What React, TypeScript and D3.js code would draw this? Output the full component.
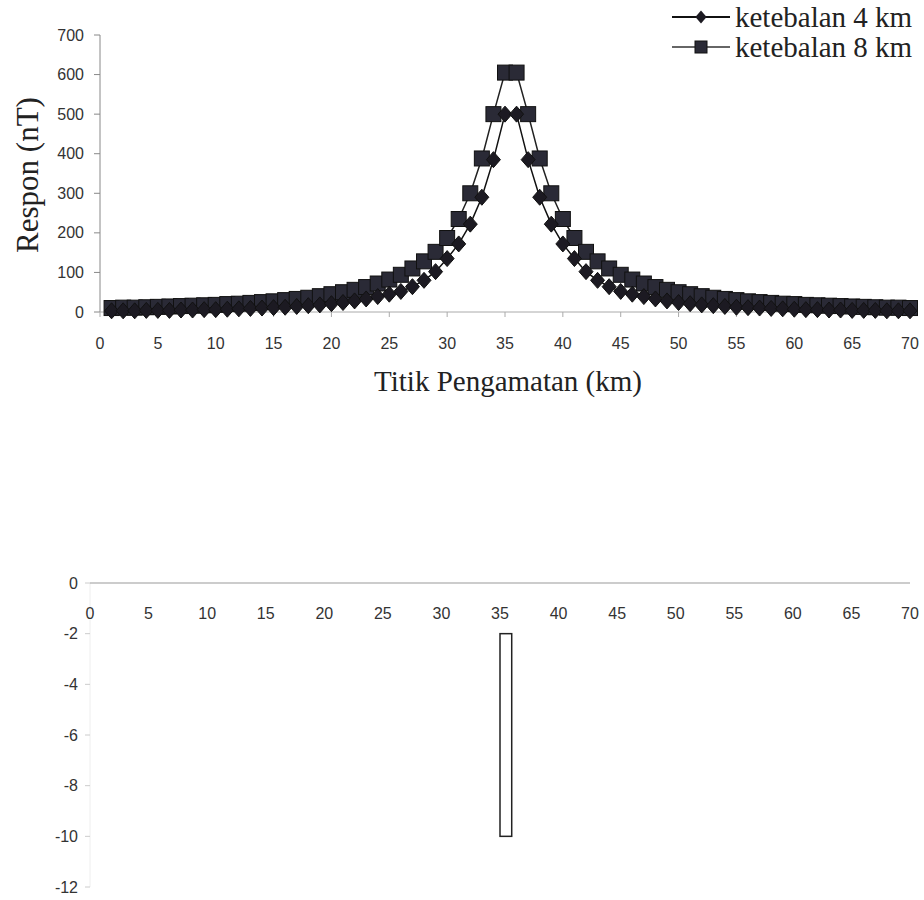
import React from "react";
import * as d3 from "d3";

// titik pengamatan (km) 1..70
const titik = d3.range(1, 71);

// respon (nT) untuk ketebalan 4 km
const respon4 = [
  3, 3, 3, 4, 4, 4, 5, 5, 6, 6, 7, 8, 9, 10, 11, 12, 14, 16, 18, 21,
  24, 28, 33, 39, 45, 52, 64, 80, 102, 135, 172, 222, 290, 385, 500,
  500, 385, 290, 222, 172, 135, 102, 80, 64, 52, 45, 39, 33, 28, 24,
  21, 18, 16, 14, 12, 11, 10, 9, 8, 7, 6, 6, 5, 5, 4, 4, 4, 3, 3, 3,
];

// respon (nT) untuk ketebalan 8 km
const respon8 = [
  10, 11, 11, 12, 13, 14, 15, 16, 17, 18, 20, 21, 23, 25, 27, 30, 33, 36, 40, 45,
  50, 56, 63, 72, 82, 94, 110, 128, 152, 187, 235, 300, 388, 500, 605,
  605, 500, 388, 300, 235, 187, 152, 128, 110, 94, 82, 72, 63, 56, 50,
  45, 40, 36, 33, 30, 27, 25, 23, 21, 20, 18, 17, 16, 15, 14, 13, 12, 11, 11, 10,
];

const xTicks = [0, 5, 10, 15, 20, 25, 30, 35, 40, 45, 50, 55, 60, 65, 70];
const yTicksTop = [0, 100, 200, 300, 400, 500, 600, 700];
const yTicksBottom = [0, -2, -4, -6, -8, -10, -12];

// benda penyebab: x dari 35 s/d 36 km, kedalaman 2 s/d 10 km
const bodyX = [35, 36];
const bodyDepth = [-2, -10];

const sans = "Liberation Sans, Arial, sans-serif";
const serif = "Liberation Serif, Times New Roman, serif";

export default function App() {
  // top chart scales
  const x = d3.scaleLinear().domain([0, 70]).range([100, 910]);
  const y = d3.scaleLinear().domain([0, 700]).range([312, 35]);

  // bottom chart scales
  const x2 = d3.scaleLinear().domain([0, 70]).range([90, 910]);
  const y2 = d3.scaleLinear().domain([0, -12]).range([583, 887]);

  const line = (vals: number[]) =>
    d3.line<number>()
      .x((_, i) => x(titik[i]))
      .y((d) => y(d))(vals) as string;

  const diamond = "M0,-8L7,0L0,8L-7,0Z";
  const sq = 15;

  return (
    <svg width={924} height={900} style={{ position: "absolute", left: 0, top: 0, background: "#fff" }}>
      {/* ---------- top chart ---------- */}
      <g>
        <line x1={x(0)} x2={x(0)} y1={y(700)} y2={y(0)} stroke="#888" />
        <line x1={x(0)} x2={x(70)} y1={y(0)} y2={y(0)} stroke="#aaa" />
        {yTicksTop.map((t) => (
          <g key={t}>
            <line x1={x(0) - 6} x2={x(0)} y1={y(t)} y2={y(t)} stroke="#888" />
            <text x={x(0) - 16} y={y(t)} dy="0.35em" textAnchor="end" fontFamily={sans} fontSize={16} fill="#333">
              {t}
            </text>
          </g>
        ))}
        {xTicks.map((t) => (
          <g key={t}>
            <line x1={x(t)} x2={x(t)} y1={y(0)} y2={y(0) + 5} stroke="#aaa" />
            <text x={x(t)} y={343} dy="0.35em" textAnchor="middle" fontFamily={sans} fontSize={16} fill="#333">
              {t}
            </text>
          </g>
        ))}
        <text x={508} y={381} dy="0.35em" textAnchor="middle" fontFamily={serif} fontSize={29} fill="#222">
          Titik Pengamatan (km)
        </text>
        <text
          transform={`translate(27,175) rotate(-90)`}
          dy="0.35em"
          textAnchor="middle"
          fontFamily={serif}
          fontSize={31}
          fill="#222"
        >
          Respon (nT)
        </text>

        {/* series 8 km */}
        <path d={line(respon8)} fill="none" stroke="#222" strokeWidth={1.5} />
        {respon8.map((v, i) => (
          <rect
            key={"s" + i}
            x={x(titik[i]) - sq / 2}
            y={y(v) - sq / 2}
            width={sq}
            height={sq}
            fill="#2a2a36"
            stroke="#111"
            strokeWidth={1}
          />
        ))}
        {/* series 4 km */}
        <path d={line(respon4)} fill="none" stroke="#111" strokeWidth={1.5} />
        {respon4.map((v, i) => (
          <path
            key={"d" + i}
            d={diamond}
            transform={`translate(${x(titik[i])},${y(v)})`}
            fill="#1c1a22"
            stroke="#111"
          />
        ))}

        {/* legend */}
        <g>
          <line x1={672} x2={730} y1={17} y2={17} stroke="#111" strokeWidth={2} />
          <path d={diamond} transform="translate(701,17) scale(0.8)" fill="#1c1a22" />
          <text x={735} y={17} dy="0.35em" fontFamily={serif} fontSize={29} fill="#222">
            ketebalan 4 km
          </text>
          <line x1={672} x2={730} y1={47} y2={47} stroke="#666" strokeWidth={2} />
          <rect x={701 - 6} y={47 - 6} width={12} height={12} fill="#2a2a36" stroke="#111" />
          <text x={735} y={47} dy="0.35em" fontFamily={serif} fontSize={29} fill="#222">
            ketebalan 8 km
          </text>
        </g>
      </g>

      {/* ---------- bottom chart ---------- */}
      <g>
        <line x1={x2(0)} x2={x2(0)} y1={y2(0)} y2={y2(-12)} stroke="#eee" />
        <line x1={x2(0)} x2={x2(70)} y1={y2(0)} y2={y2(0)} stroke="#999" />
        {yTicksBottom.map((t) => (
          <g key={t}>
            <line x1={x2(0) - 5} x2={x2(0)} y1={y2(t)} y2={y2(t)} stroke="#ccc" />
            <text x={x2(0) - 12} y={y2(t)} dy="0.35em" textAnchor="end" fontFamily={sans} fontSize={16} fill="#333">
              {t}
            </text>
          </g>
        ))}
        {xTicks.map((t) => (
          <text key={t} x={x2(t)} y={613} dy="0.35em" textAnchor="middle" fontFamily={sans} fontSize={16} fill="#333">
            {t}
          </text>
        ))}
        <rect
          x={x2(bodyX[0])}
          y={y2(bodyDepth[0])}
          width={x2(bodyX[1]) - x2(bodyX[0])}
          height={y2(bodyDepth[1]) - y2(bodyDepth[0])}
          fill="#fff"
          stroke="#222"
          strokeWidth={1.5}
        />
      </g>
    </svg>
  );
}
